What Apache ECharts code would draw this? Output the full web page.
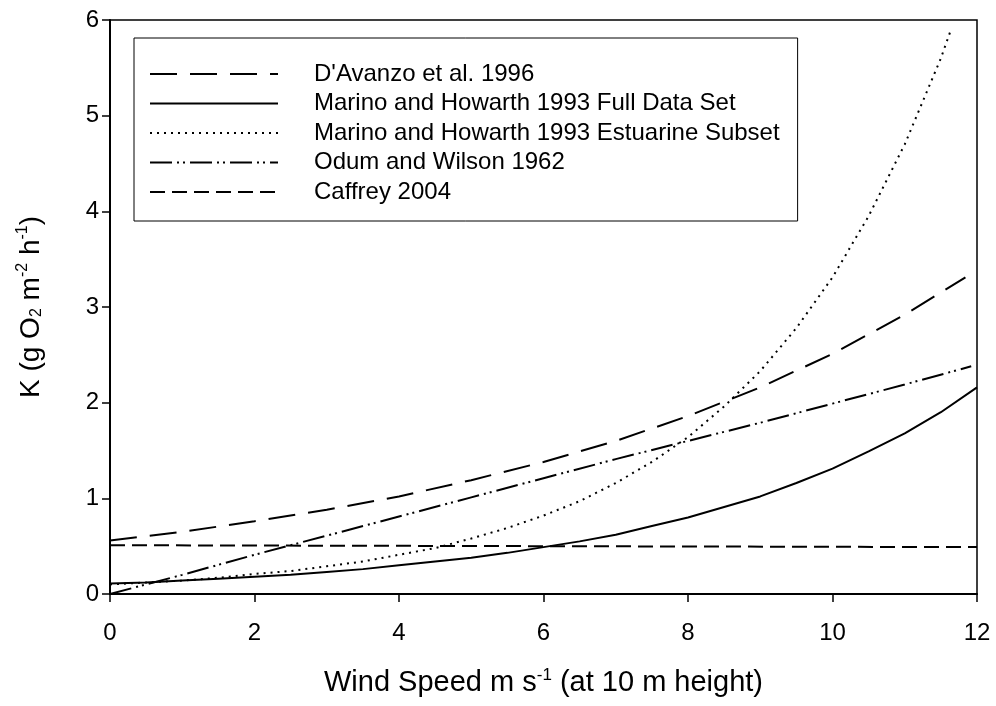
<!DOCTYPE html>
<html>
<head>
<meta charset="utf-8">
<script src="https://cdn.jsdelivr.net/npm/echarts@6/dist/echarts.min.js"></script>
<style>
  html, body { margin: 0; padding: 0; background: #fff; }
  #chart { width: 996px; height: 706px; }
</style>
</head>
<body>
<div id="chart"></div>
<script>
// Gas-exchange coefficient K (g O2 m-2 h-1) against wind speed at 10 m height.
const seriesNames = [
  "D'Avanzo et al. 1996",
  'Marino and Howarth 1993 Full Data Set',
  'Marino and Howarth 1993 Estuarine Subset',
  'Odum and Wilson 1962',
  'Caffrey 2004'
];

const xTicks = [0, 2, 4, 6, 8, 10, 12];
const yTicks = [0, 1, 2, 3, 4, 5, 6];

// D'Avanzo et al. 1996
const davanzoWind = [0, 1, 2, 3, 4, 5, 6, 7, 8, 9, 10, 11, 11.84];
const davanzoK    = [0.56, 0.65, 0.76, 0.88, 1.02, 1.19, 1.38, 1.60, 1.86, 2.16, 2.51, 2.92, 3.31];

// Marino and Howarth 1993, full data set
const marinoFullWind = [0, 0.5, 1, 1.5, 2, 2.5, 3, 3.5, 4, 4.5, 5, 5.5, 6, 6.5, 7, 7.5, 8, 8.5, 9, 9.5, 10, 10.5, 11, 11.5, 12];
const marinoFullK    = [0.11, 0.12, 0.14, 0.16, 0.18, 0.20, 0.23, 0.26, 0.30, 0.34, 0.38, 0.43, 0.49, 0.55, 0.62, 0.71, 0.80, 0.91, 1.02, 1.16, 1.31, 1.49, 1.68, 1.90, 2.16];

// Marino and Howarth 1993, estuarine subset
const marinoEstWind = [0, 0.5, 1, 1.5, 2, 2.5, 3, 3.5, 4, 4.5, 5, 5.5, 6, 6.5, 7, 7.5, 8, 8.5, 9, 9.5, 10, 10.5, 11, 11.5, 11.64];
const marinoEstK    = [0.10, 0.12, 0.14, 0.17, 0.21, 0.24, 0.29, 0.34, 0.41, 0.48, 0.58, 0.69, 0.82, 0.97, 1.16, 1.38, 1.64, 1.96, 2.33, 2.78, 3.31, 3.95, 4.70, 5.60, 5.90];

// Odum and Wilson 1962
const odumWind = [0, 1, 2, 3, 4, 5, 6, 7, 8, 9, 10, 11, 11.92];
const odumK    = [0.00, 0.20, 0.41, 0.61, 0.81, 1.01, 1.21, 1.41, 1.60, 1.79, 1.99, 2.19, 2.38];

// Caffrey 2004
const caffreyWind = [0, 12];
const caffreyK    = [0.51, 0.49];

const pairs = (xs, ys) => xs.map((x, i) => [x, ys[i]]);

const lineSeries = (name, xs, ys, dash) => ({
  name: name,
  type: 'line',
  data: pairs(xs, ys),
  showSymbol: false,
  symbol: 'none',
  smooth: false,
  clip: true,
  lineStyle: { color: '#000', width: 2, type: dash, cap: 'butt' },
  itemStyle: { color: '#000' },
  emphasis: { disabled: true }
});

const font = '"Liberation Sans", Arial, sans-serif';

const chart = echarts.init(document.getElementById('chart'), null, { renderer: 'canvas' });

chart.setOption({
  backgroundColor: '#fff',
  animation: false,
  textStyle: { fontFamily: font, color: '#000' },
  grid: {
    left: 110, right: 19, top: 20, bottom: 112,
    show: true, borderColor: '#000', borderWidth: 1.5, backgroundColor: 'transparent'
  },
  legend: {
    data: seriesNames,
    orient: 'vertical',
    left: 134,
    top: 38,
    padding: [24, 18, 17, 15],
    itemWidth: 128,
    itemHeight: 14,
    itemGap: 5.5,
    borderColor: '#000',
    borderWidth: 1,
    backgroundColor: '#fff',
    selectedMode: false,
    // only the line sample is shown, no marker on it
    itemStyle: { color: 'rgba(0,0,0,0)', borderWidth: 0, opacity: 0 },
    textStyle: { fontFamily: font, fontSize: 24, color: '#000', lineHeight: 22, padding: [0, 0, 0, 31] }
  },
  xAxis: {
    type: 'value',
    min: 0, max: 12, interval: 2,
    name: '{n|Wind Speed m s}{sup|-1}{n| (at 10 m height)}',
    nameLocation: 'middle',
    nameGap: 72,
    nameTextStyle: {
      rich: {
        n: { fontFamily: font, fontSize: 29, color: '#000', lineHeight: 34 },
        sup: { fontFamily: font, fontSize: 17, color: '#000', lineHeight: 34, padding: [0, 0, 16, 0] }
      }
    },
    axisLine: { show: true, lineStyle: { color: '#000', width: 2 } },
    axisTick: { show: true, inside: false, length: 8, lineStyle: { color: '#000', width: 1.5 } },
    axisLabel: {
      margin: 27, fontSize: 24, color: '#000', fontFamily: font,
      customValues: xTicks
    },
    splitLine: { show: false }
  },
  yAxis: {
    type: 'value',
    min: 0, max: 6, interval: 1,
    name: '{n|K (g O}{sub|2}{n| m}{sup|-2}{n| h}{sup|-1}{n|)}',
    nameLocation: 'middle',
    nameRotate: 90,
    nameGap: 62,
    nameTextStyle: {
      rich: {
        n: { fontFamily: font, fontSize: 28, color: '#000', lineHeight: 34 },
        sup: { fontFamily: font, fontSize: 16, color: '#000', lineHeight: 34, padding: [0, 0, 16, 0] },
        sub: { fontFamily: font, fontSize: 16, color: '#000', lineHeight: 34, padding: [12, 0, 0, 0] }
      }
    },
    axisLine: { show: true, lineStyle: { color: '#000', width: 2 } },
    axisTick: { show: true, inside: false, length: 8, lineStyle: { color: '#000', width: 1.5 } },
    axisLabel: {
      margin: 11, fontSize: 24, color: '#000', fontFamily: font,
      customValues: yTicks
    },
    splitLine: { show: false }
  },
  series: [
    lineSeries(seriesNames[0], davanzoWind, davanzoK, [27, 13]),
    lineSeries(seriesNames[1], marinoFullWind, marinoFullK, 'solid'),
    lineSeries(seriesNames[2], marinoEstWind, marinoEstK, [2, 5]),
    lineSeries(seriesNames[3], odumWind, odumK, [22, 5, 2, 4, 2, 5]),
    lineSeries(seriesNames[4], caffreyWind, caffreyK, [15, 7])
  ]
});
</script>
</body>
</html>
